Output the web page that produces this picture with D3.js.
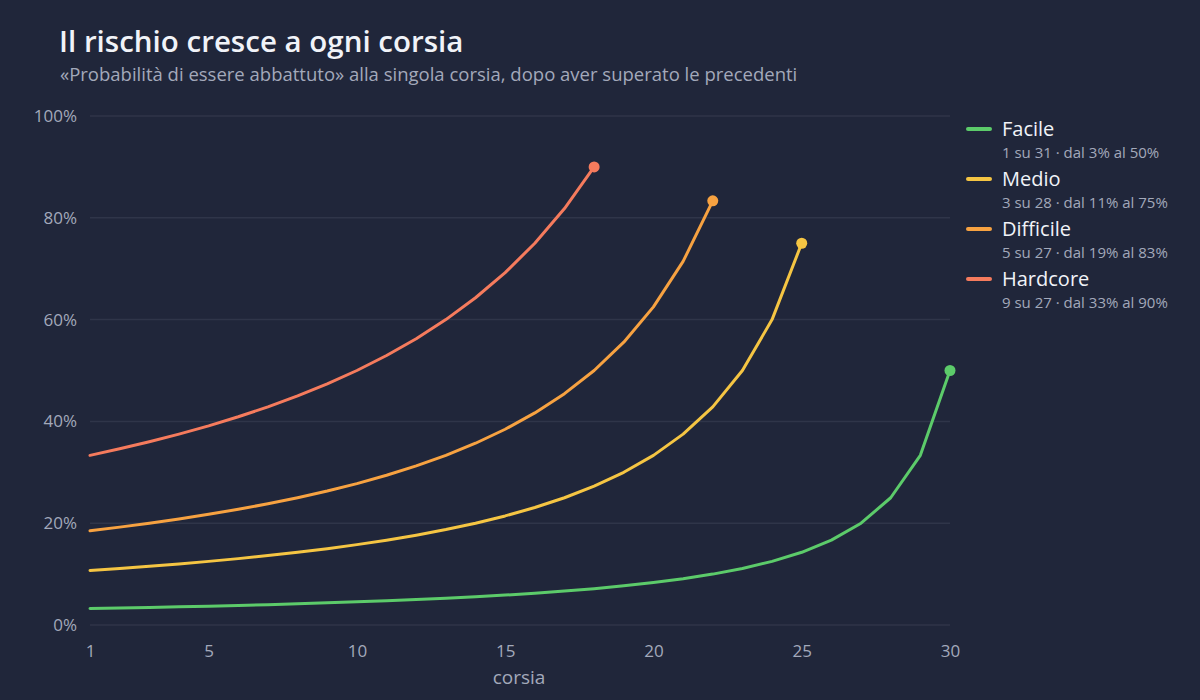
<!DOCTYPE html>
<html>
<head>
<meta charset="utf-8">
<script src="https://cdn.jsdelivr.net/npm/d3@7"></script>
<style>
  html, body { margin: 0; padding: 0; background: #20263a; }
  svg { display: block; font-family: "Open Sans", "DejaVu Sans", sans-serif; }
</style>
</head>
<body>
<div id="chart"></div>
<script>
// lane numbers are 1..n, one probability per lane
var seriesNames = ["Facile", "Medio", "Difficile", "Hardcore"];
var seriesNotes = ["1 su 31 · dal 3% al 50%", "3 su 28 · dal 11% al 75%",
                   "5 su 27 · dal 19% al 83%", "9 su 27 · dal 33% al 90%"];
var seriesColors = ["#5ccb6a", "#f5c543", "#f7a241", "#f57b5d"];

var facile = [0.0323, 0.0333, 0.0345, 0.0357, 0.0370, 0.0385, 0.0400, 0.0417, 0.0435, 0.0455,
              0.0476, 0.0500, 0.0526, 0.0556, 0.0588, 0.0625, 0.0667, 0.0714, 0.0769, 0.0833,
              0.0909, 0.1000, 0.1111, 0.1250, 0.1429, 0.1667, 0.2000, 0.2500, 0.3333, 0.5000];
var medio = [0.1071, 0.1111, 0.1154, 0.1200, 0.1250, 0.1304, 0.1364, 0.1429, 0.1500, 0.1579,
             0.1667, 0.1765, 0.1875, 0.2000, 0.2143, 0.2308, 0.2500, 0.2727, 0.3000, 0.3333,
             0.3750, 0.4286, 0.5000, 0.6000, 0.7500];
var difficile = [0.1852, 0.1923, 0.2000, 0.2083, 0.2174, 0.2273, 0.2381, 0.2500, 0.2632, 0.2778,
                 0.2941, 0.3125, 0.3333, 0.3571, 0.3846, 0.4167, 0.4545, 0.5000, 0.5556, 0.6250,
                 0.7143, 0.8333];
var hardcore = [0.3333, 0.3462, 0.3600, 0.3750, 0.3913, 0.4091, 0.4286, 0.4500, 0.4737, 0.5000,
                0.5294, 0.5625, 0.6000, 0.6429, 0.6923, 0.7500, 0.8182, 0.9000];

var xTicks = [1, 5, 10, 15, 20, 25, 30];
var yTicks = [0, 0.2, 0.4, 0.6, 0.8, 1];

var series = [facile, medio, difficile, hardcore].map(function(vals, i) {
    return {
        name: seriesNames[i],
        note: seriesNotes[i],
        color: seriesColors[i],
        values: vals.map(function(v, j) { return {x: j + 1, y: v}; })
    };
});

var W = 1200, H = 700;
var margin = {top: 116, right: 250, bottom: 75, left: 90};
var width = W - margin.left - margin.right;
var height = H - margin.top - margin.bottom;

var svg = d3.select("#chart").append("svg")
    .attr("width", W)
    .attr("height", H);

svg.append("rect").attr("width", W).attr("height", H).attr("fill", "#20263a");

// title + subtitle
svg.append("text")
    .attr("x", 59).attr("y", 52)
    .attr("fill", "#f1f3f8")
    .style("font-size", "29.5px")
    .style("font-weight", "600")
    .text("Il rischio cresce a ogni corsia");

svg.append("text")
    .attr("x", 60).attr("y", 81)
    .attr("fill", "#a3a9ba")
    .style("font-size", "18.5px")
    .text("«Probabilità di essere abbattuto» alla singola corsia, dopo aver superato le precedenti");

var g = svg.append("g")
    .attr("transform", "translate(" + margin.left + "," + margin.top + ")");

var x = d3.scaleLinear().domain([1, 30]).range([0, width]);
var y = d3.scaleLinear().domain([0, 1]).range([height, 0]);

// grid lines
g.append("g").attr("class", "grid")
    .selectAll("line")
    .data(yTicks)
    .enter().append("line")
    .attr("x1", 0).attr("x2", width)
    .attr("y1", function(d) { return y(d); })
    .attr("y2", function(d) { return y(d); })
    .attr("stroke", "#2f3549")
    .attr("stroke-width", 1.5);

// y axis
var yAxis = d3.axisLeft(y).tickValues(yTicks).tickSize(0).tickPadding(13)
    .tickFormat(function(d) { return Math.round(d * 100) + "%"; });
g.append("g").attr("class", "y axis")
    .call(yAxis)
    .attr("font-family", null)
    .attr("font-size", null)
    .call(function(s) { s.select(".domain").remove(); })
    .selectAll("text")
    .attr("fill", "#a3a9ba")
    .style("font-size", "17px");

// x axis
var xAxis = d3.axisBottom(x).tickValues(xTicks).tickSize(0).tickPadding(20);
g.append("g").attr("class", "x axis")
    .attr("transform", "translate(0," + height + ")")
    .call(xAxis)
    .attr("font-family", null)
    .attr("font-size", null)
    .call(function(s) { s.select(".domain").remove(); })
    .selectAll("text")
    .attr("fill", "#a3a9ba")
    .style("font-size", "17px");

g.append("text")
    .attr("x", width / 2 - 1).attr("y", height + 59)
    .attr("text-anchor", "middle")
    .attr("fill", "#a3a9ba")
    .style("font-size", "19px")
    .text("corsia");

// lines
var line = d3.line()
    .x(function(d) { return x(d.x); })
    .y(function(d) { return y(d.y); });

g.append("g").attr("class", "lines")
    .selectAll("path")
    .data(series)
    .enter().append("path")
    .attr("d", function(d) { return line(d.values); })
    .attr("fill", "none")
    .attr("stroke", function(d) { return d.color; })
    .attr("stroke-width", 3)
    .attr("stroke-linejoin", "round")
    .attr("stroke-linecap", "round");

// end dots
g.append("g").attr("class", "dots")
    .selectAll("circle")
    .data(series)
    .enter().append("circle")
    .attr("cx", function(d) { return x(d.values[d.values.length - 1].x); })
    .attr("cy", function(d) { return y(d.values[d.values.length - 1].y); })
    .attr("r", 5.5)
    .attr("fill", function(d) { return d.color; });

// legend
var legend = svg.append("g").attr("class", "legend")
    .attr("transform", "translate(967,129)");

var item = legend.selectAll("g")
    .data(series)
    .enter().append("g")
    .attr("transform", function(d, i) { return "translate(0," + i * 50 + ")"; });

item.append("line")
    .attr("x1", 1).attr("x2", 23)
    .attr("stroke", function(d) { return d.color; })
    .attr("stroke-width", 4)
    .attr("stroke-linecap", "round");

item.append("text")
    .attr("x", 35).attr("y", 7)
    .attr("fill", "#f1f3f8")
    .style("font-size", "20px")
    .text(function(d) { return d.name; });

item.append("text")
    .attr("x", 35).attr("y", 29)
    .attr("fill", "#a3a9ba")
    .style("font-size", "15px")
    .text(function(d) { return d.note; });
</script>
</body>
</html>
